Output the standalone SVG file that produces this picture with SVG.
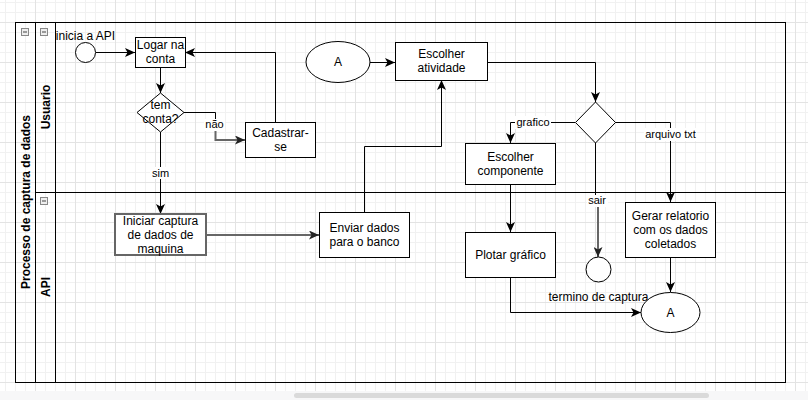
<svg xmlns="http://www.w3.org/2000/svg" width="808" height="400" viewBox="0 0 808 400">
<defs>
<pattern id="grid" x="35" y="22" width="40" height="40" patternUnits="userSpaceOnUse">
<path d="M10.5,0 V40 M20.5,0 V40 M30.5,0 V40 M0,10.5 H40 M0,20.5 H40 M0,30.5 H40" stroke="#f1f1f1" stroke-width="1" fill="none"/>
<path d="M0.5,0 V40 M0,0.5 H40" stroke="#e3e3e3" stroke-width="1" fill="none"/>
</pattern>
<marker id="arr" markerUnits="userSpaceOnUse" markerWidth="10" markerHeight="9" refX="10" refY="4.5" orient="auto">
<path d="M0,0 L10,4.5 L0,9 L2.5,4.5 z" fill="#000"/>
</marker>
<marker id="arrg" markerUnits="userSpaceOnUse" markerWidth="10" markerHeight="9" refX="10" refY="4.5" orient="auto">
<path d="M0,0 L10,4.5 L0,9 L2.5,4.5 z" fill="#222"/>
</marker>
</defs>
<style>
text{font-family:"Liberation Sans",Arial,sans-serif;fill:#000}
.n{font-size:12px;text-anchor:middle}
.e{font-size:11px;text-anchor:middle}
.b{font-size:12px;font-weight:bold;text-anchor:middle}
.sh{fill:#fff;stroke:#000;stroke-width:1}
.sg{fill:#fff;stroke:#666;stroke-width:2}
.ln{fill:none;stroke:#000;stroke-width:1}
.lg{fill:none;stroke:#666;stroke-width:2}
.lab{fill:#fff}
.ic{fill:#eee;stroke:#888;stroke-width:1}
.icm{stroke:#444;stroke-width:1}
</style>
<rect width="808" height="400" fill="#fff"/>
<rect width="808" height="391" fill="url(#grid)"/>
<rect y="391" width="808" height="9" fill="#f7f7f8"/>
<rect x="294" y="393" width="415" height="5" rx="2.5" fill="#dadada"/>

<g id="pool">
<rect x="15.5" y="22.5" width="770" height="360" fill="none" stroke="#000" stroke-width="1"/>
<path d="M35.5,22.5 V382.5 M55.5,22.5 V382.5 M35.5,192.5 H785.5" class="ln"/>
<text class="b" transform="translate(29.5,202) rotate(-90)">Processo de captura de dados</text>
<rect class="ic" x="21.5" y="28.5" width="7" height="7"/><path class="icm" d="M23,32 H27"/>
</g>
<g id="lane-usuario">
<text class="b" transform="translate(49.5,107) rotate(-90)">Usuario</text>
<rect class="ic" x="40.5" y="28.5" width="7" height="7"/><path class="icm" d="M42,32 H46"/>
</g>
<g id="lane-api">
<text class="b" transform="translate(49.5,287) rotate(-90)">API</text>
<rect class="ic" x="40.5" y="197.5" width="7" height="7"/><path class="icm" d="M42,201 H46"/>
</g>

<g id="connectors">
<path class="ln" d="M96,52.5 H135" marker-end="url(#arr)"/>
<path class="ln" d="M160.5,67 V93" marker-end="url(#arr)"/>
<path class="ln" d="M184,112.5 H215.5 V121"/>
<path class="lg" d="M215.5,131 V140 H245" marker-end="url(#arrg)"/>
<rect class="lab" x="204" y="119" width="21" height="12"/>
<text class="e" x="214.5" y="128">não</text>
<path class="ln" d="M275.5,122 V52.5 H185" marker-end="url(#arr)"/>
<path class="ln" d="M160.5,132 V214" marker-end="url(#arr)"/>
<rect class="lab" x="150" y="167" width="21" height="12"/>
<text class="e" x="160.5" y="177">sim</text>
<path class="lg" d="M206,235 H319" marker-end="url(#arrg)"/>
<path class="ln" d="M364.5,212 V146.5 H441.5 V80" marker-end="url(#arr)"/>
<path class="ln" d="M370,62.5 H395" marker-end="url(#arr)"/>
<path class="ln" d="M487,62.5 H595.5 V102" marker-end="url(#arr)"/>
<path class="ln" d="M575,122.5 H510.5 V143" marker-end="url(#arr)"/>
<rect class="lab" x="515" y="116" width="36" height="13"/>
<text class="e" x="533" y="126">grafico</text>
<path class="ln" d="M615,122.5 H670.5 V202" marker-end="url(#arr)"/>
<rect class="lab" x="644" y="128" width="53" height="13"/>
<text class="e" x="670.5" y="138">arquivo txt</text>
<path class="ln" d="M595.5,143 V196"/>
<path class="lg" d="M598,206 V257" marker-end="url(#arrg)"/>
<rect class="lab" x="587" y="195" width="21" height="12"/>
<text class="e" x="597" y="204">sair</text>
<path class="ln" d="M510.5,184 V232" marker-end="url(#arr)"/>
<path class="ln" d="M670.5,257 V292" marker-end="url(#arr)"/>
<path class="ln" d="M510.5,277 V312.5 H641" marker-end="url(#arr)"/>
<text class="n" x="598.5" y="301">termino de captura</text>
</g>

<g id="start">
<circle class="sh" cx="85.5" cy="52.5" r="10"/>
<text class="n" x="85.5" y="40">inicia a API</text>
</g>
<g id="logar">
<rect class="sh" x="135.5" y="37.5" width="50" height="30"/>
<text class="n" x="160.5" y="49">Logar na</text>
<text class="n" x="160.5" y="63">conta</text>
</g>
<g id="tem-conta">
<path class="sh" d="M160.5,93 L184,112.5 L160.5,132 L137,112.5 Z"/>
<text class="n" x="160.5" y="109">tem</text>
<text class="n" x="160.5" y="123">conta?</text>
</g>
<g id="cadastrar">
<rect class="sh" x="245.5" y="122.5" width="70" height="35"/>
<text class="n" x="280.5" y="137">Cadastrar-</text>
<text class="n" x="280.5" y="151">se</text>
</g>
<g id="iniciar-captura">
<rect class="sg" x="115" y="214" width="91" height="41"/>
<text class="n" x="160.5" y="225">Iniciar captura</text>
<text class="n" x="160.5" y="239">de dados de</text>
<text class="n" x="160.5" y="253">maquina</text>
</g>
<g id="enviar-dados">
<rect class="sh" x="319.5" y="212.5" width="90" height="45"/>
<text class="n" x="364.5" y="231.5">Enviar dados</text>
<text class="n" x="364.5" y="245.5">para o banco</text>
</g>
<g id="conector-a1">
<ellipse class="sh" cx="338" cy="62" rx="32" ry="20.5"/>
<text class="n" x="338" y="66">A</text>
</g>
<g id="escolher-atividade">
<rect class="sh" x="395.5" y="42.5" width="92" height="38"/>
<text class="n" x="441.5" y="58">Escolher</text>
<text class="n" x="441.5" y="72">atividade</text>
</g>
<g id="decisao">
<path class="sh" d="M595.5,102 L615.5,122.5 L595.5,143 L575.5,122.5 Z"/>
</g>
<g id="escolher-componente">
<rect class="sh" x="465.5" y="143.5" width="90" height="41"/>
<text class="n" x="510.5" y="160.5">Escolher</text>
<text class="n" x="510.5" y="174.5">componente</text>
</g>
<g id="plotar-grafico">
<rect class="sh" x="465.5" y="232.5" width="90" height="45"/>
<text class="n" x="510.5" y="259">Plotar gráfico</text>
</g>
<g id="fim">
<circle class="sh" cx="598.5" cy="269.5" r="12.5"/>
</g>
<g id="gerar-relatorio">
<rect class="sh" x="625.5" y="202.5" width="90" height="55"/>
<text class="n" x="670.5" y="219.5">Gerar relatorio</text>
<text class="n" x="670.5" y="233.5">com os dados</text>
<text class="n" x="670.5" y="247.5">coletados</text>
</g>
<g id="conector-a2">
<ellipse class="sh" cx="670.5" cy="312.5" rx="29.5" ry="20"/>
<text class="n" x="670.5" y="316.5">A</text>
</g>
</svg>
